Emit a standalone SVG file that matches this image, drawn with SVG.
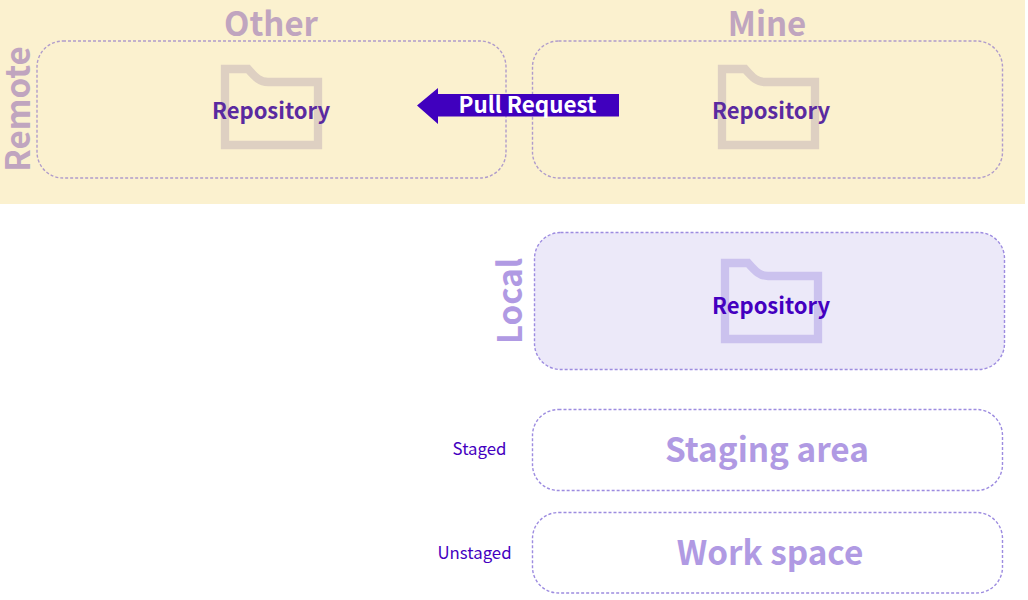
<svg xmlns="http://www.w3.org/2000/svg" width="1028" height="600" viewBox="0 0 1028 600">
<style>
text{font-family:"Noto Sans CJK SC","Noto Sans",sans-serif;text-anchor:middle}
.box{stroke-width:1.4;stroke-dasharray:3 2}
.remote{fill:none;stroke:#b09ccb}
.local{stroke:#9d8ce0}
.folder{fill:none;stroke-width:8.300}
.big{font-size:33px;font-weight:700}
.mid{font-size:33.300px;font-weight:700;fill:#b09ae3}
.repo{font-size:22px;font-weight:700}
.small{font-size:16.800px;fill:#4400c0}
.rem{fill:#c0a5bf}
</style>
<defs><path id="f" d="M225 69H248C256 78 260 82 268 82H318V145H225Z"/></defs>
<rect id="remote-band" x="0" y="0" width="1025" height="204" fill="#fbf1cf"/>
<text class="big rem" x="271" y="35.500">Other</text>
<text class="big rem" x="767" y="35.500">Mine</text>
<text class="big rem" transform="translate(30 109) rotate(-90)">Remote</text>
<g id="other">
<rect class="box remote" x="37" y="41" width="469" height="137" rx="26"/>
<use href="#f" class="folder" stroke="#ded0c2"/>
<text class="repo" x="271" y="118.500" fill="#5a2aa0">Repository</text>
</g>
<g id="mine">
<rect class="box remote" x="532.500" y="41" width="470" height="137" rx="26"/>
<use href="#f" class="folder" stroke="#ded0c2" x="497"/>
<text class="repo" x="771" y="118.500" fill="#5a2aa0">Repository</text>
</g>
<g id="local">
<rect class="box local" x="534.500" y="232.500" width="470" height="137" rx="26" fill="#ece9f9"/>
<use href="#f" class="folder" stroke="#cbc2ee" x="500" y="194"/>
<text class="repo" x="771" y="313.500" fill="#4400c0">Repository</text>
<text class="big" fill="#b09ae3" transform="translate(522 301) rotate(-90)">Local</text>
</g>
<g id="staging">
<rect class="box local" x="532.500" y="409.500" width="470" height="81" rx="26" fill="none"/>
<text class="mid" x="767" y="462">Staging area</text>
<text class="small" x="479.500" y="454.500">Staged</text>
</g>
<g id="work">
<rect class="box local" x="532.500" y="512.500" width="470" height="80.500" rx="26" fill="none"/>
<text class="mid" x="770" y="565">Work space</text>
<text class="small" x="474.500" y="559">Unstaged</text>
</g>
<g id="connectors">
<path d="M417 105.500L438 88V94H619V116.500H438V124Z" fill="#4000be"/>
<text x="527.500" y="112.500" font-size="22.400" font-weight="700" fill="#fff">Pull Request</text>
</g>
</svg>
